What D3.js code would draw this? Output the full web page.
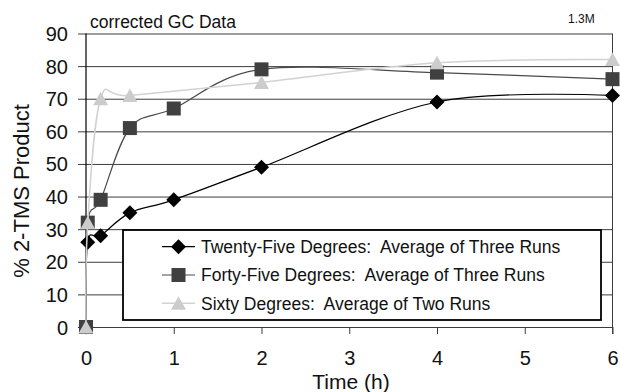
<!DOCTYPE html>
<html>
<head>
<meta charset="utf-8">
<script src="https://cdn.jsdelivr.net/npm/d3@7"></script>
<style>
  html, body { margin: 0; padding: 0; background: #fff; }
  svg { display: block; font-family: "Liberation Sans", Arial, sans-serif; }
</style>
</head>
<body>
<svg id="chart" width="620" height="392"></svg>
<script>
// Reaction time points (hours) for each temperature series
const times25 = [0, 0.02, 0.167, 0.5, 1, 2, 4, 6];
const times45 = [0, 0.02, 0.167, 0.5, 1, 2, 4, 6];
const times60 = [0, 0.02, 0.167, 0.5, 2, 4, 6];

// % 2-TMS product
const values25 = [0, 26, 28, 35, 39, 49, 69, 71];
const values45 = [0, 32, 39, 61, 67, 79, 78, 76];
const values60 = [0, 32, 70, 71, 75, 81, 82];

const seriesNames = [
  "Twenty-Five Degrees:  Average of Three Runs",
  "Forty-Five Degrees:  Average of Three Runs",
  "Sixty Degrees:  Average of Two Runs"
];

const xTicks = [0, 1, 2, 3, 4, 5, 6];
const yTicks = [0, 10, 20, 30, 40, 50, 60, 70, 80, 90];

const svg = d3.select("#chart");
const plotLeft = 86, plotRight = 612.5, plotTop = 33.5, plotBottom = 327;

const x = d3.scaleLinear().domain([0, 6]).range([plotLeft, plotRight]);
const y = d3.scaleLinear().domain([0, 90]).range([plotBottom, plotTop]);

// Horizontal gridlines with the y axis labels
const yAxis = svg.append("g")
  .attr("transform", `translate(${plotLeft},0)`)
  .call(d3.axisLeft(y).tickValues(yTicks).tickFormat(d3.format("d"))
    .tickSize(-(plotRight - plotLeft)).tickPadding(18));
yAxis.select(".domain").remove();
yAxis.selectAll(".tick line").attr("x1", -8).attr("stroke", "#3c3c3c").attr("stroke-width", 1);
yAxis.selectAll(".tick text")
  .attr("dy", null).attr("y", 7)
  .attr("font-size", 20).attr("font-family", "Liberation Sans, Arial, sans-serif").attr("fill", "#111");

// x axis with downward ticks
const xAxis = svg.append("g")
  .attr("transform", `translate(0,${plotBottom})`)
  .call(d3.axisBottom(x).tickValues(xTicks).tickFormat(d3.format("d")).tickSize(7).tickSizeOuter(0));
xAxis.select(".domain").attr("stroke", "#3c3c3c");
xAxis.selectAll(".tick line").attr("stroke", "#3c3c3c");
xAxis.selectAll(".tick text")
  .attr("dy", null).attr("y", 38)
  .attr("font-size", 20).attr("font-family", "Liberation Sans, Arial, sans-serif").attr("fill", "#111");

// Left axis line and right border
svg.append("line").attr("x1", plotLeft).attr("x2", plotLeft).attr("y1", plotTop).attr("y2", plotBottom + 7)
  .attr("stroke", "#000").attr("stroke-width", 1.2);
svg.append("line").attr("x1", plotRight).attr("x2", plotRight).attr("y1", plotTop).attr("y2", plotBottom + 7)
  .attr("stroke", "#3c3c3c").attr("stroke-width", 1);

// Marker shapes
function diamond(g, cx, cy, fill) {
  g.append("path").attr("d", `M${cx},${cy - 7.5}L${cx + 7.5},${cy}L${cx},${cy + 7.5}L${cx - 7.5},${cy}Z`).attr("fill", fill);
}
function square(g, cx, cy, fill) {
  g.append("rect").attr("x", cx - 7).attr("y", cy - 7).attr("width", 14).attr("height", 14).attr("fill", fill);
}
function triangle(g, cx, cy, fill) {
  g.append("path").attr("d", `M${cx},${cy - 7}L${cx + 7.5},${cy + 6.5}L${cx - 7.5},${cy + 6.5}Z`).attr("fill", fill);
}

const series = [
  { t: times25, v: values25, line: "#000000", lw: 1.2, fill: "#000000", marker: diamond },
  { t: times45, v: values45, line: "#4a4a4a", lw: 1.2, fill: "#404040", marker: square },
  { t: times60, v: values60, line: "#d2d2d2", lw: 1.5, fill: "#cccccc", marker: triangle }
];

const lineGen = d3.line()
  .x(d => x(d[0])).y(d => y(d[1]))
  .curve(d3.curveCardinal.tension(0));

series.forEach(s => {
  const pts = s.t.map((t, i) => [t, s.v[i]]);
  const g = svg.append("g");
  g.append("path").datum(pts).attr("d", lineGen)
    .attr("fill", "none").attr("stroke", s.line).attr("stroke-width", s.lw);
  pts.forEach(p => s.marker(g, x(p[0]), y(p[1]), s.fill));
});

// Legend
const legend = svg.append("g");
legend.append("rect").attr("x", 123).attr("y", 230).attr("width", 478).attr("height", 90)
  .attr("fill", "#fff").attr("stroke", "#000").attr("stroke-width", 1.8);
series.forEach((s, i) => {
  const cy = 246.7 + i * 28.3;
  legend.append("line").attr("x1", 162).attr("x2", 195).attr("y1", cy).attr("y2", cy)
    .attr("stroke", s.line).attr("stroke-width", s.lw);
  s.marker(legend, 178.5, cy, s.fill);
  legend.append("text").attr("x", 201).attr("y", cy + 6.3)
    .attr("font-size", 17.5).attr("fill", "#111")
    .style("white-space", "pre")
    .text(seriesNames[i]);
});

// Titles and annotations
svg.append("text").attr("x", 90).attr("y", 28).attr("font-size", 17.5).attr("fill", "#111")
  .text("corrected GC Data");
svg.append("text").attr("x", 568).attr("y", 23).attr("font-size", 12).attr("fill", "#111")
  .text("1.3M");
svg.append("text").attr("x", 351).attr("y", 389).attr("text-anchor", "middle")
  .attr("font-size", 21).attr("fill", "#111").text("Time (h)");
svg.append("text").attr("transform", "translate(29,191) rotate(-90)").attr("text-anchor", "middle")
  .attr("font-size", 22).attr("fill", "#111").text("% 2-TMS Product");
</script>
</body>
</html>
